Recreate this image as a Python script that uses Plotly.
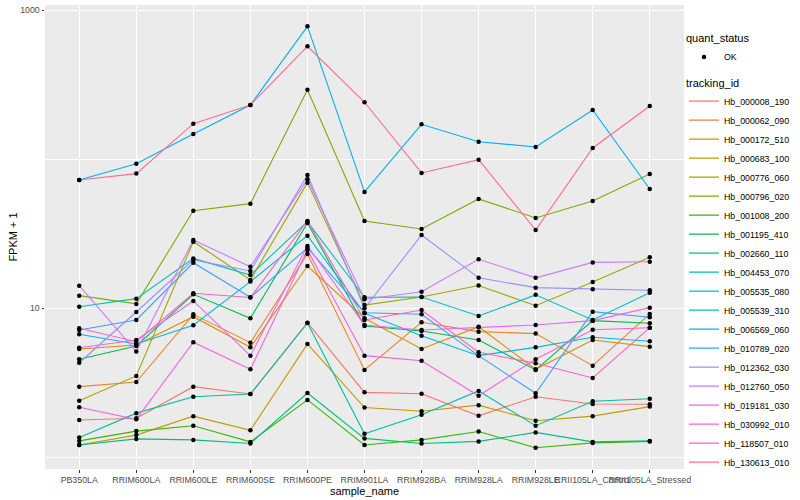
import plotly.graph_objects as go

samples = ["PB350LA", "RRIM600LA", "RRIM600LE", "RRIM600SE", "RRIM600PE",
           "RRIM901LA", "RRIM928BA", "RRIM928LA", "RRIM928LE",
           "RRII105LA_Control", "RRII105LA_Stressed"]

# FPKM + 1 per sample, one list per tracking_id
hb_000008_190 = [1.78, 1.83, 2.98, 2.66, 8.0, 2.73, 2.67, 1.90, 2.55, 2.28, 2.27]
hb_000062_090 = [2.98, 3.20, 9.11, 5.88, 23.1, 3.86, 8.06, 6.97, 6.76, 4.12, 9.16]
hb_000172_510 = [5.33, 5.67, 8.78, 5.47, 19.2, 8.57, 5.33, 7.52, 3.90, 6.13, 5.53]
hb_000683_100 = [1.21, 1.41, 1.89, 1.52, 5.76, 2.16, 2.04, 2.24, 1.76, 1.89, 2.19]
hb_000776_060 = [2.40, 3.52, 27.97, 15.5, 69.6, 10.5, 11.9, 14.2, 10.4, 15.0, 22.0]
hb_000796_020 = [12.15, 10.7, 45.1, 50.3, 292.5, 38.5, 34.0, 54.1, 40.3, 52.4, 79.6]
hb_001008_200 = [1.29, 1.50, 1.63, 1.27, 2.43, 1.21, 1.31, 1.49, 1.16, 1.25, 1.28]
hb_001195_410 = [4.55, 5.59, 12.4, 8.57, 37.3, 7.61, 7.04, 6.13, 3.86, 8.26, 7.93]
hb_002660_110 = [1.21, 1.33, 1.31, 1.24, 2.70, 1.34, 1.24, 1.28, 1.47, 1.27, 1.29]
hb_004453_070 = [1.36, 1.98, 2.55, 2.66, 7.97, 1.44, 1.93, 2.79, 1.63, 2.38, 2.47]
hb_005535_080 = [10.25, 11.6, 21.6, 16.7, 38.1, 11.85, 11.9, 8.88, 12.3, 8.35, 12.7]
hb_005539_310 = [6.69, 5.76, 7.69, 15.1, 30.7, 9.26, 6.55, 4.81, 5.47, 6.39, 6.01]
hb_006569_060 = [72.5, 93.3, 147.6, 231, 778, 60.3, 171.4, 131, 120.7, 213.8, 63.1]
hb_010789_020 = [7.15, 8.35, 20.2, 11.85, 25.4, 9.34, 9.11, 4.81, 2.69, 9.49, 8.70]
hb_012362_030 = [4.31, 9.44, 21.1, 17.8, 78.3, 10.0, 31.0, 16.0, 13.75, 13.4, 13.2]
hb_012760_050 = [14.18, 5.12, 28.7, 19.0, 73.3, 11.5, 12.9, 21.3, 16.0, 20.3, 20.5]
hb_019181_030 = [5.44, 6.13, 11.2, 4.81, 26.2, 7.73, 7.15, 7.46, 7.73, 8.26, 10.1]
hb_030992_010 = [2.17, 1.80, 5.92, 3.90, 24.6, 4.81, 4.45, 2.59, 4.55, 7.18, 7.41]
hb_118507_010 = [7.34, 5.97, 12.6, 11.8, 38.5, 8.35, 9.74, 5.07, 4.28, 3.41, 7.41]
hb_130613_010 = [72.5, 80.0, 173, 231, 571.6, 240.8, 80.8, 99.2, 33.5, 118.9, 227.5]

tracking_ids = ["Hb_000008_190", "Hb_000062_090", "Hb_000172_510", "Hb_000683_100",
                "Hb_000776_060", "Hb_000796_020", "Hb_001008_200", "Hb_001195_410",
                "Hb_002660_110", "Hb_004453_070", "Hb_005535_080", "Hb_005539_310",
                "Hb_006569_060", "Hb_010789_020", "Hb_012362_030", "Hb_012760_050",
                "Hb_019181_030", "Hb_030992_010", "Hb_118507_010", "Hb_130613_010"]

series = [hb_000008_190, hb_000062_090, hb_000172_510, hb_000683_100,
          hb_000776_060, hb_000796_020, hb_001008_200, hb_001195_410,
          hb_002660_110, hb_004453_070, hb_005535_080, hb_005539_310,
          hb_006569_060, hb_010789_020, hb_012362_030, hb_012760_050,
          hb_019181_030, hb_030992_010, hb_118507_010, hb_130613_010]

colors = ["#F8766D", "#EA8331", "#D89000", "#C09B00", "#A3A500", "#7CAE00",
          "#39B600", "#00BB4E", "#00BF7D", "#00C1A3", "#00BFC4", "#00BAE0",
          "#00B0F6", "#35A2FF", "#9590FF", "#C77CFF", "#E76BF3", "#FA62DB",
          "#FF62BC", "#FF6C91"]

quant_status = "OK"

fig = go.Figure()
for tid, vals, col in zip(tracking_ids, series, colors):
    fig.add_trace(go.Scatter(x=samples, y=vals, mode="lines", name=tid,
                             line=dict(color=col, width=1.1), legend="legend2"))

all_x = [s for vals in series for s in samples]
all_y = [v for vals in series for v in vals]
fig.add_trace(go.Scatter(x=all_x, y=all_y, mode="markers", name=quant_status,
                         marker=dict(color="black", size=4.5), legend="legend"))

font_family = "Liberation Sans, Arial, sans-serif"
fig.update_layout(
    width=800, height=500,
    margin=dict(l=45, r=116, t=5, b=31, autoexpand=False),
    paper_bgcolor="white", plot_bgcolor="#EBEBEB",
    font=dict(family=font_family, size=9, color="#4D4D4D"),
    xaxis=dict(type="category", categoryorder="array", categoryarray=samples,
               range=[-0.6, 10.6], showgrid=True, gridcolor="white", gridwidth=1.1,
               ticks="outside", ticklen=2.5, tickcolor="#333333", tickangle=0,
               tickfont=dict(size=8.8, color="#4D4D4D"), zeroline=False, showline=False,
               automargin=False,
               title=dict(text="sample_name", font=dict(size=11, color="black"), standoff=0)),
    yaxis=dict(type="log", range=[-0.078, 3.034], tickvals=[10, 1000], ticktext=["10", "1000"],
               showgrid=True, gridcolor="white", gridwidth=1.1,
               minor=dict(tickvals=[1, 100], showgrid=True, gridcolor="white", gridwidth=0.55, ticks=""),
               ticks="outside", ticklen=2.5, tickcolor="#333333",
               tickfont=dict(size=8.8, color="#4D4D4D"), zeroline=False, showline=False,
               automargin=False,
               title=dict(text="FPKM + 1", font=dict(size=11, color="black"), standoff=0)),
    legend=dict(x=1.0, xanchor="left", y=0.95, yanchor="top",
                title=dict(text="quant_status", font=dict(size=11, color="black")),
                font=dict(size=8.8, color="black"), bgcolor="rgba(0,0,0,0)"),
    legend2=dict(x=1.0, xanchor="left", y=0.855, yanchor="top",
                 title=dict(text="tracking_id", font=dict(size=11, color="black")),
                 font=dict(size=8.8, color="black"), bgcolor="rgba(0,0,0,0)",
                 itemwidth=30),
    showlegend=True,
)

fig.write_html("out.html", config={"displayModeBar": False},
               post_script="document.body.style.margin='0';")
